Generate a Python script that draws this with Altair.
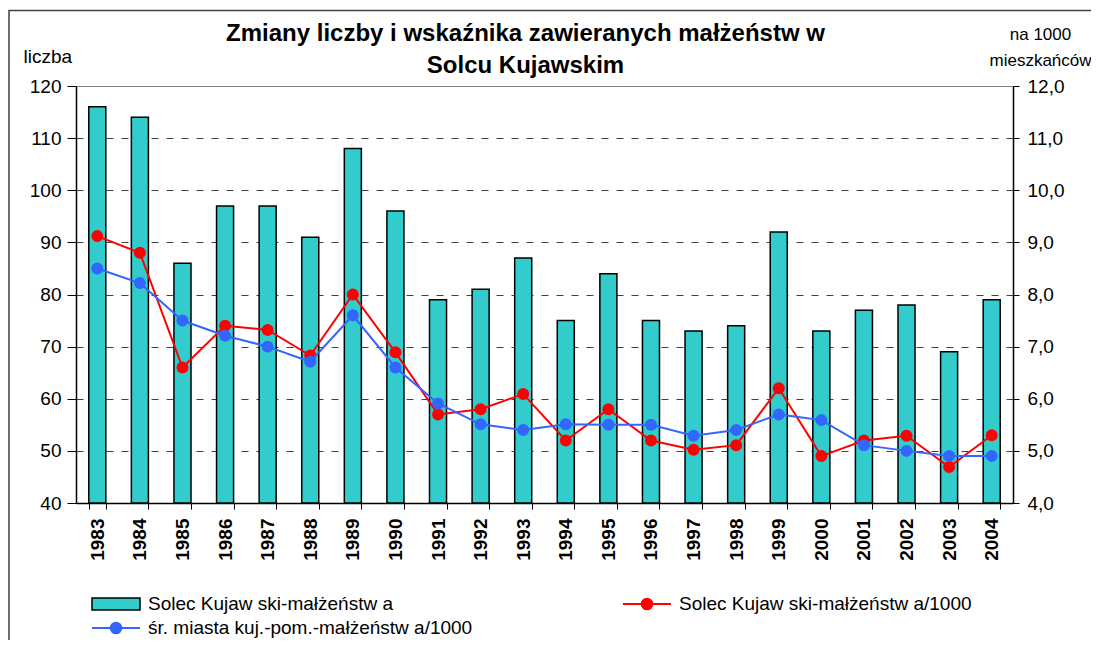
import altair as alt
import pandas as pd

years = ["1983", "1984", "1985", "1986", "1987", "1988", "1989", "1990", "1991", "1992", "1993",
         "1994", "1995", "1996", "1997", "1998", "1999", "2000", "2001", "2002", "2003", "2004"]
counts = [116, 114, 86, 97, 97, 91, 108, 96, 79, 81, 87, 75, 84, 75, 73, 74, 92, 73, 77, 78, 69, 79]
rate_solec = [9.12, 8.80, 6.60, 7.40, 7.32, 6.83, 8.00, 6.89, 5.70, 5.80, 6.09,
              5.20, 5.80, 5.20, 5.02, 5.11, 6.20, 4.90, 5.20, 5.29, 4.69, 5.30]
rate_avg = [8.50, 8.22, 7.50, 7.21, 7.00, 6.71, 7.60, 6.60, 5.91, 5.51, 5.40,
            5.51, 5.50, 5.50, 5.29, 5.40, 5.70, 5.59, 5.11, 5.00, 4.90, 4.90]
left_ticks = [40, 50, 60, 70, 80, 90, 100, 110, 120]
right_ticks = [4, 5, 6, 7, 8, 9, 10, 11, 12]

NAME_BAR = "Solec Kujaw ski-małżeństw a"
NAME_RED = "Solec Kujaw ski-małżeństw a/1000"
NAME_BLUE = "śr. miasta kuj.-pom.-małżeństw a/1000"
TITLE = ["Zmiany liczby i wskaźnika zawieranych małżeństw w", "Solcu Kujawskim"]

FONT = "Liberation Sans"
W, H = 937, 417

df = pd.DataFrame({
    "rok": years, "liczba": counts, "solec": rate_solec, "srednia": rate_avg,
    "s_bar": NAME_BAR, "s_red": NAME_RED, "s_blue": NAME_BLUE,
})

xscale = alt.Scale(paddingInner=0.6, paddingOuter=0.3)
x_axis = alt.Axis(title=None, labelAngle=-90, labelFontWeight="bold", labelFontSize=19,
                  labelFont=FONT, labelColor="black", labelPadding=9, tickBand="extent",
                  tickSize=6, tickColor="black", domainColor="black", domainWidth=1.5,
                  labelAlign="right", labelBaseline="middle", grid=False)
x_main = alt.X("rok:N", sort=years, scale=xscale, axis=x_axis)

left_axis = alt.Axis(
    orient="left", values=left_ticks, title="liczba", titleAngle=0, titleAlign="left",
    titleBaseline="alphabetic", titleX=-53, titleY=-24, titleFont=FONT, titleFontSize=19,
    titleFontWeight="normal", titleColor="black", labelFont=FONT, labelFontSize=19,
    labelColor="black", tickSize=9, labelPadding=6, tickColor="black",
    domainColor="black", domainWidth=1.5, grid=True,
    gridDash={"condition": {"test": "datum.value === 120", "value": []}, "value": [7, 8]},
    gridColor={"condition": {"test": "datum.value === 120", "value": "#808080"}, "value": "#404040"},
    gridWidth=1,
)
right_axis = alt.Axis(
    orient="right", values=right_ticks,
    labelExpr="replace(format(datum.value, '.1f'), '.', ',')",
    title=["na 1000", "mieszkańców"], titleAngle=0, titleAlign="center",
    titleBaseline="alphabetic", titleX=27, titleY=-47, titleFont=FONT, titleFontSize=17,
    titleFontWeight="normal", titleColor="black", titleLineHeight=26,
    labelFont=FONT, labelFontSize=19, labelColor="black", tickSize=6, labelPadding=8,
    tickColor="black", domainColor="black", domainWidth=1.5, grid=False,
)
rscale = alt.Scale(domain=[4, 12], zero=False, nice=False)

leg_common = dict(orient="none", title=None, labelFont=FONT, labelFontSize=19,
                  labelColor="black", symbolSize=2304, labelOffset=7, labelLimit=0)
RECT_PATH = "M-1,-0.25H1V0.25H-1Z"
LINE_PATH = "M-1,0H1M-0.22,0A0.22,0.22,0,1,0,0.22,0A0.22,0.22,0,1,0,-0.22,0Z"

frame = alt.Chart(pd.DataFrame({"f": [0]})).mark_rect(
    fill="transparent", stroke="#404040", strokeWidth=1.5
).encode(x=alt.value(-67), x2=alt.value(W + 300), y=alt.value(-75.5), y2=alt.value(H + 300))

bars = alt.Chart(df).mark_bar(stroke="black", strokeWidth=1.5).encode(
    x=x_main,
    y=alt.Y("liczba:Q", scale=alt.Scale(domain=[40, 120], zero=False, nice=False), axis=left_axis),
    y2=alt.datum(40),
    fill=alt.Fill("s_bar:N", scale=alt.Scale(domain=[NAME_BAR], range=["#33CCCC"]),
                  legend=alt.Legend(symbolType=RECT_PATH, legendX=15, legendY=493,
                                    symbolStrokeColor="black", symbolStrokeWidth=1.5,
                                    symbolFillColor="#33CCCC", **leg_common)),
)


def series_layer(field, sfield, name, color, axis, lx, ly):
    leg = alt.Legend(symbolType=LINE_PATH, legendX=lx, legendY=ly, symbolStrokeWidth=2,
                     symbolStrokeColor=color, symbolFillColor=color, **leg_common)
    sc = alt.Scale(domain=[name], range=[color])
    line = alt.Chart(df).mark_line(strokeWidth=2).encode(
        x=x_main,
        y=alt.Y(f"{field}:Q", scale=rscale, axis=axis),
        stroke=alt.Stroke(sfield, scale=sc, legend=leg),
    )
    pts = alt.Chart(df).mark_circle(size=100, opacity=1).encode(
        x=x_main,
        y=alt.Y(f"{field}:Q", scale=rscale, axis=axis),
        fill=alt.Fill(sfield, scale=sc, legend=leg),
        stroke=alt.Stroke(sfield, scale=sc, legend=leg),
    )
    return alt.layer(line, pts)


red = series_layer("solec", "s_red:N", NAME_RED, "#FF0000", right_axis, 546, 493)
blue = series_layer("srednia", "s_blue:N", NAME_BLUE, "#3366FF", None, 15, 517)

chart = alt.layer(frame, bars, red, blue).resolve_scale(
    y="independent", fill="independent", stroke="independent"
).properties(
    width=W, height=H,
    title=alt.TitleParams(text=TITLE, fontSize=24, font=FONT, fontWeight="bold", color="black",
                          anchor="middle", frame="group", dx=-19, dy=77, offset=9, lineHeight=32),
    autosize=alt.AutoSizeParams(type="none"),
    padding={"left": 68, "top": 78, "right": 78, "bottom": 137},
).configure_view(stroke="#808080", strokeWidth=1.5).configure(background="white")

chart.save("out.html", embed_options={"renderer": "svg", "actions": False})
